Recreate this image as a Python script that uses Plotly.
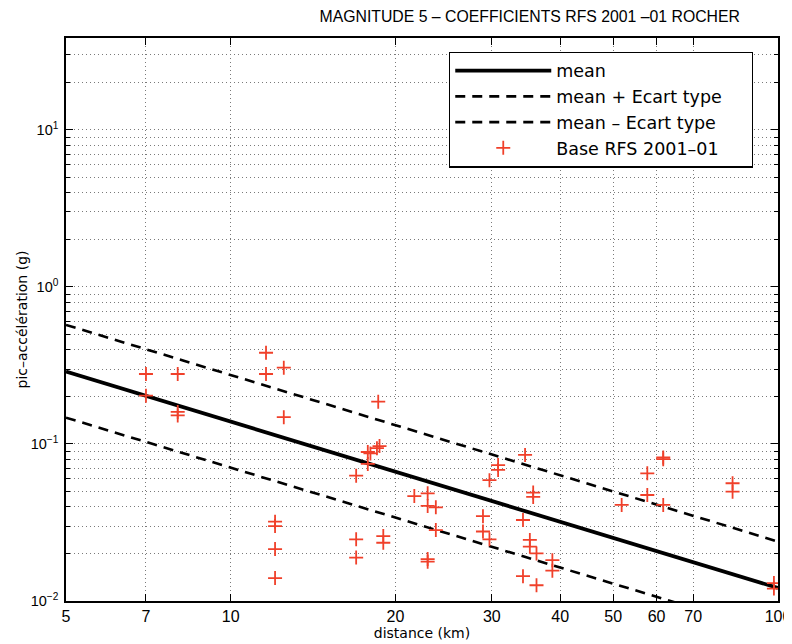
import plotly.graph_objects as go

# ---- data ----
distance_km = [7.0, 7.0, 8.0, 8.0, 8.0, 11.6, 11.6, 12.5, 12.5,
               12.05, 12.05, 12.05, 12.05,
               16.95, 16.95, 16.95, 17.8, 18.0, 17.8, 18.5, 18.7, 18.6, 19.0, 19.0,
               21.65, 22.9, 22.9, 23.7, 23.7, 22.9, 22.9,
               28.9, 28.9, 29.7, 29.7, 30.8, 30.8,
               34.5, 35.7, 35.7, 34.2, 35.2, 35.2, 36.2, 34.2, 36.2, 38.7, 38.7,
               51.8, 57.7, 57.7, 61.7, 61.7, 61.7,
               82.6, 82.6, 98.3, 98.3]
pga_g = [0.279, 0.203, 0.279, 0.152, 0.160, 0.381, 0.279, 0.306, 0.148,
         0.032, 0.030, 0.0214, 0.0140,
         0.0628, 0.0247, 0.0189, 0.0889, 0.087, 0.0746, 0.094, 0.097, 0.186, 0.0259, 0.0235,
         0.0466, 0.0485, 0.0403, 0.0395, 0.0283, 0.0185, 0.0178,
         0.0347, 0.0277, 0.0247, 0.0588, 0.0734, 0.0683,
         0.0851, 0.046, 0.049, 0.0328, 0.0245, 0.0222, 0.0201, 0.0144, 0.0126, 0.0182, 0.0156,
         0.0409, 0.065, 0.0473, 0.080, 0.082, 0.0409,
         0.0562, 0.0497, 0.0130, 0.0120]

line_distance_km = [5, 100]
mean_pga = [0.289, 0.0121]
mean_plus_std = [0.573, 0.0239]
mean_minus_std = [0.147, 0.0062]

x_tick_vals = [5, 7, 10, 20, 30, 40, 50, 60, 70, 100]
x_tick_text = ["5", "7", "10", "20", "30", "40", "50", "60", "70", "100"]
y_tick_vals = [0.01, 0.1, 1, 10]
y_tick_text = ["10<sup>\u22122</sup>", "10<sup>\u22121</sup>", "10<sup>0</sup>", "10<sup>1</sup>"]
y_minor_vals = [k * d for d in (0.01, 0.1, 1, 10) for k in range(2, 10)]

title_text = "MAGNITUDE 5 \u2013 COEFFICIENTS RFS 2001 \u201301 ROCHER"

grid_color = "#7a7a7a"
grid_dash = "1px,3px"
red = "#f0402a"

fig = go.Figure()
fig.add_trace(go.Scatter(x=line_distance_km, y=mean_pga, mode="lines", name="mean",
                         line=dict(color="black", width=3.8)))
fig.add_trace(go.Scatter(x=line_distance_km, y=mean_plus_std, mode="lines", name="mean + Ecart type",
                         line=dict(color="black", width=2.6, dash="10px,7px")))
fig.add_trace(go.Scatter(x=line_distance_km, y=mean_minus_std, mode="lines", name="mean \u2013 Ecart type",
                         line=dict(color="black", width=2.6, dash="10px,7px")))
fig.add_trace(go.Scatter(x=distance_km, y=pga_g, mode="markers",
                         name="Base RFS 2001\u201301\u00a0\u00a0\u00a0\u00a0\u00a0",
                         marker=dict(symbol="cross-thin", size=10,
                                     line=dict(color=red, width=1.8), color=red)))

fig.update_layout(
    width=784, height=636,
    margin=dict(l=58, r=14, t=30, b=43, autoexpand=False),
    paper_bgcolor="white", plot_bgcolor="white",
    font=dict(family="Liberation Sans, Arial, sans-serif", color="black"),
    title=dict(text=title_text, xref="paper", x=0.9466, xanchor="right",
               yref="container", y=0.986, yanchor="middle",
               font=dict(family="Liberation Sans, Arial, sans-serif", size=15.8, color="black")),
    legend=dict(x=0.538, y=0.976, xanchor="left", yanchor="top",
                bgcolor="white", bordercolor="black", borderwidth=1.2,
                font=dict(family="DejaVu Sans, sans-serif", size=17.5, color="black"),
                itemwidth=96, tracegroupgap=0),
    showlegend=True,
)

fig.update_xaxes(
    type="log", range=[0.69897, 2.0], automargin=False,
    tickmode="array", tickvals=x_tick_vals, ticktext=x_tick_text,
    ticks="inside", ticklen=7, tickcolor="black", tickwidth=1,
    showline=True, linecolor="black", linewidth=1.5, mirror="ticks",
    showgrid=True, gridcolor=grid_color, gridwidth=1, griddash=grid_dash,
    zeroline=False,
    tickfont=dict(family="Liberation Sans, Arial, sans-serif", size=16),
    title=dict(text="distance (km)", font=dict(family="DejaVu Sans, sans-serif", size=14), standoff=2),
)
fig.update_yaxes(
    type="log", range=[-2.0, 1.585], automargin=False,
    tickmode="array", tickvals=y_tick_vals, ticktext=y_tick_text,
    ticks="inside", ticklen=7, tickcolor="black", tickwidth=1,
    showline=True, linecolor="black", linewidth=1.5, mirror="ticks",
    showgrid=True, gridcolor=grid_color, gridwidth=1, griddash=grid_dash,
    minor=dict(tickmode="array", tickvals=y_minor_vals, ticks="inside", ticklen=4,
               tickcolor="black", showgrid=True, gridcolor=grid_color, gridwidth=1,
               griddash=grid_dash),
    zeroline=False,
    ticklabelstandoff=3,
    tickfont=dict(family="Liberation Sans, Arial, sans-serif", size=14.5),
    title=dict(text="pic\u2013acc\u00e9l\u00e9ration (g)", font=dict(family="DejaVu Sans, sans-serif", size=14), standoff=0),
)

fig.write_html("out.html")
